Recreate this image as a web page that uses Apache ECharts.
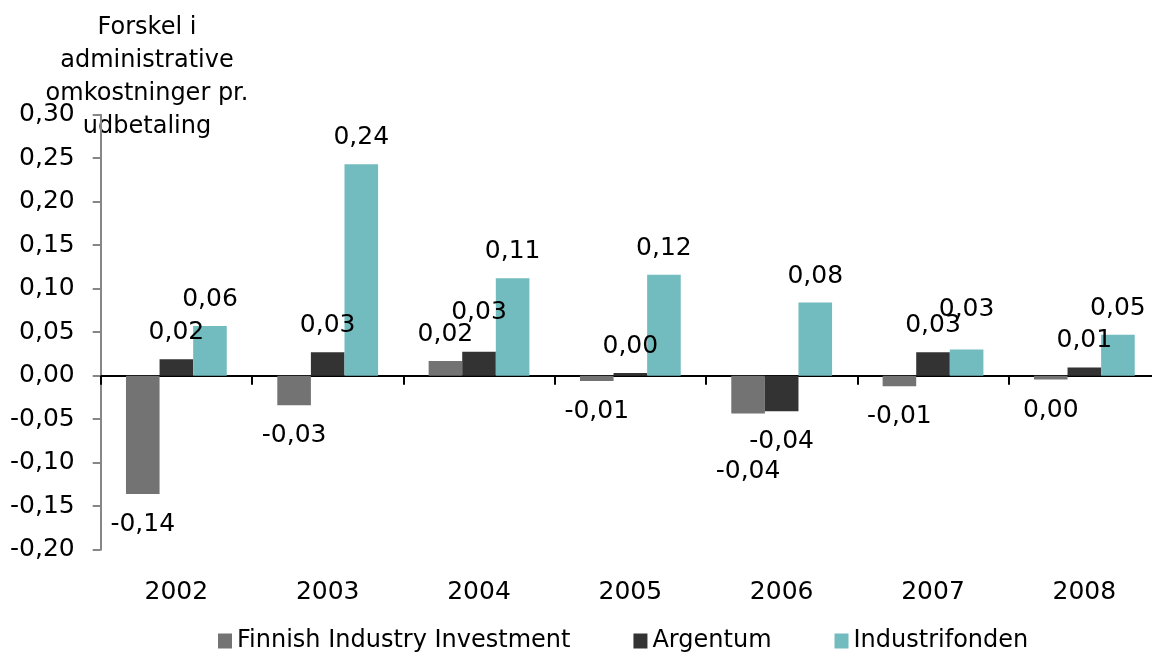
<!DOCTYPE html>
<html>
<head>
<meta charset="utf-8">
<script src="https://cdn.jsdelivr.net/npm/echarts@6/dist/echarts.min.js"></script>
<style>
html,body{margin:0;padding:0;background:#fff;overflow:hidden;width:1152px;height:652px;}
#chart{width:1160px;height:652px;}
</style>
</head>
<body>
<div id="chart"></div>
<script>
// ---- data ----
var categories = ['2002', '2003', '2004', '2005', '2006', '2007', '2008'];
var seriesNames = ['Finnish Industry Investment', 'Argentum', 'Industrifonden'];
var finnishIndustryInvestment = [-0.136, -0.034, 0.017, -0.006, -0.0435, -0.012, -0.0045];
var argentum = [0.019, 0.027, 0.0275, 0.003, -0.041, 0.027, 0.0095];
var industrifonden = [0.057, 0.243, 0.112, 0.116, 0.084, 0.030, 0.047];
var yTitle = 'Forskel i\nadministrative\nomkostninger pr.\nudbetaling';

// ---- styling ----
var FONT = 'DejaVu Sans';
var FS = 25;
var colors = ['#737373', '#333333', '#72BBBE'];
// extra label shifts (series index -> category index -> [dx, dy]) to mimic the original's label placement
var labelShift = {
  0: { 4: [0, 27] },
  1: { 2: [0, -13] },
  2: { 5: [0, -14] }
};

function fmt(v) {
  var r = Math.round(v * 100) / 100;
  if (r === 0) r = 0;
  return r.toFixed(2).replace('.', ',');
}

function buildData(values, si) {
  return values.map(function (v, ci) {
    var shift = (labelShift[si] && labelShift[si][ci]) || [0, 0];
    var neg = v < 0;
    return {
      value: v,
      label: {
        position: neg ? 'bottom' : 'top',
        offset: [shift[0], shift[1] + (neg ? 4 : 0)]
      }
    };
  });
}

var allValues = [finnishIndustryInvestment, argentum, industrifonden];

var chart = echarts.init(document.getElementById('chart'), null, { renderer: 'canvas' });
chart.setOption({
  animation: false,
  backgroundColor: '#ffffff',
  textStyle: { fontFamily: FONT },
  grid: { left: 100.7, right: 0, top: 114.7, bottom: 102.3, containLabel: false },
  legend: {
    data: seriesNames,
    left: 218,
    top: 629,
    padding: 0,
    icon: 'rect',
    itemWidth: 14,
    itemHeight: 15,
    itemGap: 63,
    textStyle: { fontFamily: FONT, fontSize: 24, color: '#000' }
  },
  graphic: [{
    type: 'text',
    x: 147,
    y: 11,
    style: {
      text: yTitle,
      align: 'center',
      verticalAlign: 'top',
      fontFamily: FONT,
      fontSize: 24,
      lineHeight: 33,
      fill: '#000'
    }
  }],
  xAxis: [{
    type: 'category',
    data: categories,
    position: 'bottom',
    axisLine: { onZero: true, lineStyle: { color: '#000', width: 2 } },
    axisTick: { show: true, length: 9, lineStyle: { color: '#000', width: 2 } },
    axisLabel: { show: false }
  }, {
    type: 'category',
    data: categories,
    position: 'bottom',
    axisLine: { show: false, onZero: false },
    axisTick: { show: false },
    axisLabel: { show: true, margin: 30, fontFamily: FONT, fontSize: FS, color: '#000' }
  }],
  yAxis: {
    type: 'value',
    min: -0.2,
    max: 0.3,
    interval: 0.05,
    splitLine: { show: false },
    axisLine: { show: true, lineStyle: { color: '#868686', width: 2 } },
    axisTick: { show: true, length: 8, lineStyle: { color: '#868686', width: 2 } },
    axisLabel: {
      margin: 26,
      fontFamily: FONT,
      fontSize: FS,
      color: '#000',
      formatter: function (v) { return fmt(v); }
    }
  },
  series: allValues.map(function (vals, si) {
    return {
      name: seriesNames[si],
      type: 'bar',
      xAxisIndex: 0,
      barGap: '0%',
      barCategoryGap: '33.4%',
      itemStyle: { color: colors[si] },
      label: {
        show: true,
        distance: 14,
        fontFamily: FONT,
        fontSize: FS,
        color: '#000',
        formatter: function (p) { return fmt(p.value); }
      },
      data: buildData(vals, si)
    };
  })
});
</script>
</body>
</html>
